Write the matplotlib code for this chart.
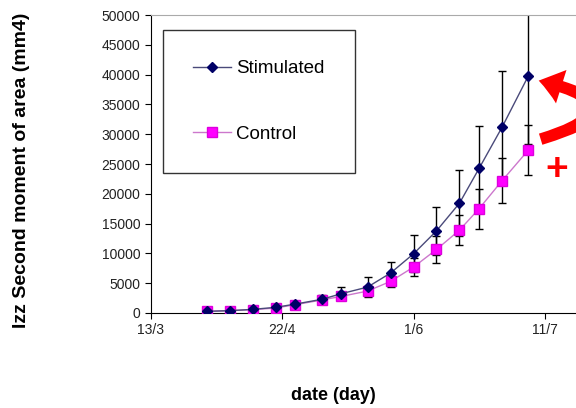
import matplotlib
matplotlib.use("Agg")
import matplotlib.pyplot as plt
from matplotlib.patches import FancyArrowPatch

plt.rcParams['font.family'] = ['Liberation Sans', 'DejaVu Sans']

# days since 13/3
days = [17, 24, 31, 38, 44, 52, 58, 66, 73, 80, 87, 94, 100, 107, 115]

stim = [280, 390, 610, 950, 1500, 2290, 3240, 4350, 6700, 9930, 13780, 18420, 24280, 31190, 39790]
stim_err = [100, 100, 150, 200, 300, 800, 1100, 1670, 1900, 3120, 4070, 5520, 7090, 9430, 11500]

ctrl = [280, 390, 560, 840, 1400, 2180, 2790, 3680, 5300, 7700, 10660, 13900, 17520, 22210, 27340]
ctrl_err = [80, 80, 100, 150, 200, 400, 500, 900, 950, 1450, 2230, 2570, 3350, 3740, 4190]

tick_days = [0, 40, 80, 120]
tick_labels = ['13/3', '22/4', '1/6', '11/7']

fig = plt.figure(figsize=(5.76, 4.08), dpi=100)
ax = fig.add_axes([151 / 576, 95 / 408, 443 / 576, 298 / 408])

ax.errorbar(days, stim, yerr=stim_err, color='#000066', ecolor='black', elinewidth=1,
            capsize=3, capthick=1, lw=0)
ax.errorbar(days, ctrl, yerr=ctrl_err, color='#ff00ff', ecolor='black', elinewidth=1,
            capsize=3, capthick=1, lw=0)
ax.plot(days, stim, color='#4a4a7a', lw=1, marker='D', markersize=5,
        markerfacecolor='#000066', markeredgecolor='#000066', label='Stimulated', zorder=4)
ax.plot(days, ctrl, color='#cc77cc', lw=1, marker='s', markersize=7.5,
        markerfacecolor='#ff00ff', markeredgecolor='#dd00dd', label='Control', zorder=3)

ax.set_xlim(0, 135)
ax.set_ylim(0, 50000)
ax.set_xticks(tick_days)
ax.set_xticklabels(tick_labels)
ax.set_yticks(range(0, 50001, 5000))
ax.tick_params(axis='both', direction='out', length=4, labelsize=10, colors='black',
               labelcolor='#222222')

ax.spines['right'].set_visible(False)
ax.spines['top'].set_color('#aaaaaa')

ax.set_ylabel('Izz Second moment of area (mm4)', fontsize=14, fontweight='bold')
ax.yaxis.set_label_coords((30 - 151) / 443, 0.48)
fig.text(333 / 576, 1 - 396 / 408, 'date (day)', fontsize=13, fontweight='bold',
         ha='center', va='center')

leg = ax.legend(loc='upper left', bbox_to_anchor=(12 / 443, 1 - 15 / 298), fontsize=13.5,
                frameon=True, fancybox=False, borderpad=1.6, labelspacing=2.6,
                handlelength=2.0, handletextpad=0.3, borderaxespad=0)
leg.get_frame().set_edgecolor('black')
leg.get_frame().set_linewidth(1)

# red curved arrow and plus sign
arrow = FancyArrowPatch(posA=(538, 408 - 140), posB=(536, 408 - 80),
                        transform=None, connectionstyle='arc3,rad=1.9',
                        arrowstyle='simple,head_width=1.8,head_length=1.2,tail_width=0.6',
                        color='red', mutation_scale=14, lw=0)
fig.patches.append(arrow)
fig.text(557 / 576, 1 - 170 / 408, '+', color='red', fontsize=28, fontweight='bold',
         ha='center', va='center')

fig.savefig('out.png', dpi=100)
